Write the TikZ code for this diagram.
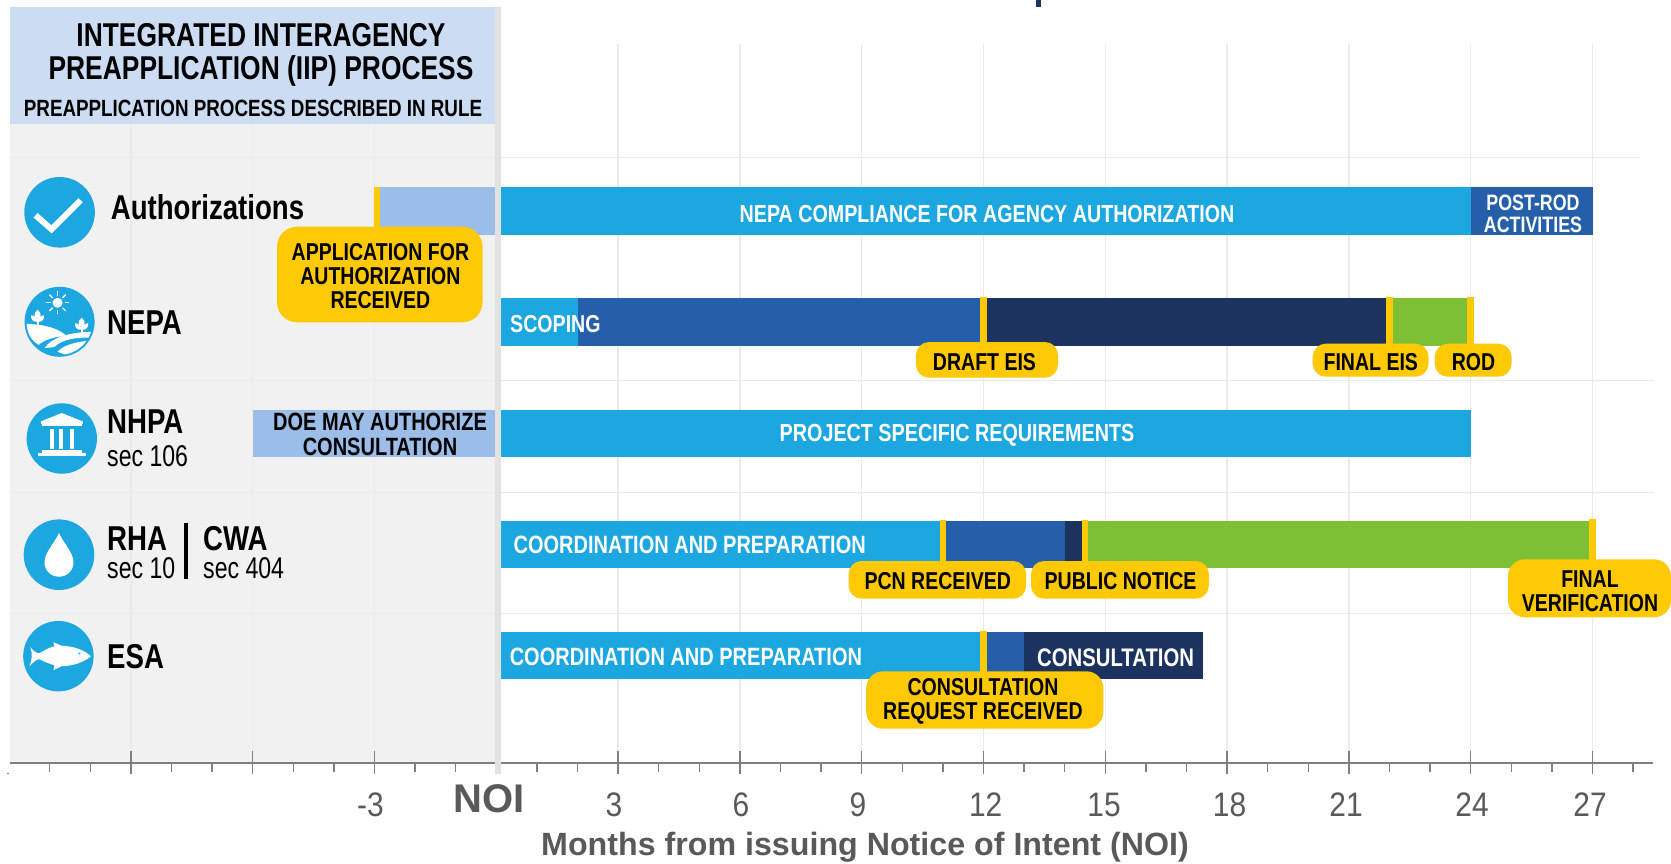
\documentclass[tikz,border=0pt]{standalone}
\usepackage{fontspec}
\setmainfont{Liberation Sans}
\newfontfamily\bnar[FakeStretch=0.8,UprightFont=* Bold]{Liberation Sans}
\newfontfamily\rnar[FakeStretch=0.77]{Liberation Sans}
\newfontfamily\axf[FakeStretch=0.88]{Liberation Sans}
\newfontfamily\bfull[UprightFont=* Bold]{Liberation Sans}
\newcommand\bsz[1]{\bnar\fontsize{#1}{#1}\selectfont}
\newcommand\rsz[1]{\rnar\fontsize{#1}{#1}\selectfont}
\newcommand\hdsz{\bnar\fontsize{33}{33}\selectfont}
\definecolor{cyanbar}{HTML}{1CA7E0}
\definecolor{midbar}{HTML}{255FAA}
\definecolor{darkbar}{HTML}{1C335F}
\definecolor{greenbar}{HTML}{7DC035}
\definecolor{flag}{HTML}{FFC905}
\definecolor{header}{HTML}{CCDCF3}
\definecolor{panel}{HTML}{F1F1F1}
\definecolor{stripe}{HTML}{E2E2E2}
\definecolor{gridc}{HTML}{EAEAEA}
\definecolor{axisc}{HTML}{7F7F7F}
\definecolor{txtgrey}{HTML}{595959}
\definecolor{prebar}{HTML}{9DBDE9}
\usetikzlibrary{calc}
\tikzset{
  grid line/.style={draw=gridc,line width=1.3pt},
  tick line/.style={draw=axisc,line width=1.3pt},
  milestone/.style={draw=flag,line width=6.8pt},
  flagbox/.style={fill=flag,rounded corners=#1},
  flagbox/.default=13pt,
  bartxt/.style={inner sep=0pt,text=white,align=center,yshift=-1.5pt,font=\bsz{#1}},
  flagtxt/.style={inner sep=0pt,text=black,align=center,yshift=-1.5pt,font=\bsz{#1}},
  rowtxt/.style={inner sep=0pt,text=black,anchor=west,font=\bsz{#1}},
  subtxt/.style={inner sep=0pt,text=black,anchor=west,yshift=-1.5pt,font=\rsz{#1}},
  axtxt/.style={inner sep=0pt,text=txtgrey,yshift=-2pt,font=\axf\fontsize{34}{34}\selectfont},
  iconbg/.style={fill=cyanbar},
  treeleaf/.style={fill=white},
}
\newcommand\smalltree{%
\fill[white] (-1,0) rectangle (1,10);
\fill[treeleaf] (0,-6) .. controls (4,-3) and (4,1) .. (0,3.5) .. controls (-4,1) and (-4,-3) .. (0,-6);
\fill[treeleaf] (0,6) .. controls (-5,6.5) and (-7,3) .. (-6.5,-.5) .. controls (-3,-.5) and (-.5,2) .. (0,6);
\fill[treeleaf] (0,6) .. controls (5,6.5) and (7,3) .. (6.5,-.5) .. controls (3,-.5) and (.5,2) .. (0,6);
}
\begin{document}
\begin{tikzpicture}[x=1pt,y=-1pt,declare function={mx(\m)=496.3+40.6*\m;}]
\useasboundingbox (0,0) rectangle (1671,864);
% stub of clipped title
\fill[darkbar] (1036,0) rectangle (1040.5,7.5);
% panel
\fill[panel] (9.6,124) rectangle (495,763);
\fill[header] (9.6,7.3) rectangle (495,124);
% grid
\foreach \m in {-9,-6,-3} \draw[grid line] ({mx(\m)},124) -- ({mx(\m)},763);
\foreach \m in {3,6,...,27} \draw[grid line] ({mx(\m)},44) -- ({mx(\m)},763);
\draw[grid line] (9.6,157.3) -- (1640,157.3);
\foreach \y in {380.5,492.3,613.3} \draw[grid line] (9.6,\y) -- (1654,\y);
% axis
\draw[draw=axisc,line width=1.6pt] (9.6,763) -- (1653,763);
\foreach \m in {-11,-10,-8,-7,-5,-4,-2,-1,1,2,4,5,7,8,10,11,13,14,16,17,19,20,22,23,25,26,28}
  \draw[tick line] ({mx(\m)},763) -- ({mx(\m)},771.7);
\foreach \m in {-9,-6,-3,3,6,...,27}
  \draw[tick line] ({mx(\m)},751) -- ({mx(\m)},774.3);
\fill[axisc] (8,773.5) circle (.8);
\fill[stripe] (495,7.3) rectangle (501,774);
% header text
\node[inner sep=0pt,align=center,font=\hdsz] (hd) at (261,54.8) {INTEGRATED INTERAGENCY\\PREAPPLICATION (IIP) PROCESS};
\node[inner sep=0pt,yshift=-1.5pt,font=\bsz{23.5}] (hdsub) at (253,107) {PREAPPLICATION PROCESS DESCRIBED IN RULE};
% bars: Authorizations
\fill[prebar] (380,187.3) rectangle (495,234.7);
\fill[cyanbar] (501,187.3) rectangle ({mx(24)},234.7);
\fill[midbar] ({mx(24)},187.3) rectangle ({mx(27)},234.7);
\node[bartxt=24.6] (t1) at (987,212.3) {NEPA COMPLIANCE FOR AGENCY AUTHORIZATION};
\node[bartxt=22.3] (t2) at (1533,212) {POST-ROD\\ACTIVITIES};
% NEPA
\fill[cyanbar] (501,298.3) rectangle ({mx(2)},346);
\fill[midbar] ({mx(2)},298.3) rectangle ({mx(12)},346);
\fill[darkbar] ({mx(12)},298.3) rectangle ({mx(22)},346);
\fill[greenbar] ({mx(22)},298.3) rectangle ({mx(24)},346);
\node[bartxt=24.5,anchor=west] (t3) at (510,323) {SCOPING};
% NHPA
\fill[prebar] (252.5,409.7) rectangle (495,457);
\fill[cyanbar] (501,409.7) rectangle ({mx(24)},457);
\node[bartxt=24.7] (t4) at (957,433.6) {PROJECT SPECIFIC REQUIREMENTS};
\node[flagtxt=25] (t5) at (380,433) {DOE MAY AUTHORIZE\\CONSULTATION};
% RHA
\fill[cyanbar] (501,520.7) rectangle ({mx(11)},568);
\fill[midbar] ({mx(11)},520.7) rectangle ({mx(14)},568);
\fill[darkbar] ({mx(14)},520.7) rectangle ({mx(14.5)},568);
\fill[greenbar] ({mx(14.5)},520.7) rectangle ({mx(27)},568);
\node[bartxt=25,anchor=west] (t6) at (513.4,543) {COORDINATION AND PREPARATION};
% ESA
\fill[cyanbar] (501,632) rectangle ({mx(12)},679.3);
\fill[midbar] ({mx(12)},632) rectangle ({mx(13)},679.3);
\fill[darkbar] ({mx(13)},632) rectangle ({mx(17.4)},679.3);
\node[bartxt=25,anchor=west] (t7) at (509.6,655) {COORDINATION AND PREPARATION};
\node[bartxt=25.4,anchor=west] (t8) at (1037,656.7) {CONSULTATION};
% milestone flags
\coordinate (m1) at ({mx(-3)+2.4},187);
\coordinate (m2) at ({mx(12)},297);
\coordinate (m3) at ({mx(22)},297);
\coordinate (m4) at ({mx(24)},297);
\coordinate (m5) at ({mx(11)},520);
\coordinate (m6) at ({mx(14.5)},520);
\coordinate (m7) at ({mx(27)},519.3);
\coordinate (m8) at ({mx(12)-.3},631);
\foreach \a/\yb in {m1/230,m2/345,m3/345,m4/345,m5/564,m6/564,m7/562,m8/674}
  \draw[milestone] (\a) -- (\a |- 0,\yb);
\fill[flagbox=20pt] (277,226.7) rectangle (482.5,322.3);
\fill[flagbox] (916,342) rectangle (1058,377.7);
\fill[flagbox] (1312.7,343.7) rectangle (1428.5,376.7);
\fill[flagbox] (1434.7,343.7) rectangle (1511.5,376.7);
\fill[flagbox] (848.6,561) rectangle (1026.2,598.7);
\fill[flagbox] (1031,561) rectangle (1208.8,598.7);
\fill[flagbox=17pt] (1508,559.3) rectangle (1671,617.3);
\fill[flagbox=17pt] (866.2,671.3) rectangle (1103.4,728.7);
\node[flagtxt=24.4] (f1) at (380.4,274.5) {APPLICATION FOR\\AUTHORIZATION\\RECEIVED};
\node[flagtxt=24.4] (f2) at (984.5,360.5) {DRAFT EIS};
\node[flagtxt=24.4] (f3) at (1370.8,361) {FINAL EIS};
\node[flagtxt=24.4] (f4) at (1473.5,361) {ROD};
\node[flagtxt=24.4] (f5) at (937.8,580) {PCN RECEIVED};
\node[flagtxt=24.4] (f6) at (1120.6,580) {PUBLIC NOTICE};
\node[flagtxt=24.4] (f7) at (1590,590) {FINAL\\VERIFICATION};
\node[flagtxt=24.4] (f8) at (983,700) {CONSULTATION\\REQUEST RECEIVED};
% row labels
\node[rowtxt=34.5] (r1) at (110.7,206.7) {Authorizations};
\node[rowtxt=34.5] (r2) at (107,322.7) {NEPA};
\node[rowtxt=34.5] (r3) at (107,422) {NHPA};
\node[subtxt=30] (r3s) at (107,455) {sec 106};
\node[rowtxt=34.5] (r4) at (107,538.3) {RHA};
\node[subtxt=30] (r4s) at (107,566.7) {sec 10};
\fill[black] (184,523.3) rectangle (187.5,579.3);
\node[rowtxt=34.5] (r5) at (203,538.3) {CWA};
\node[subtxt=30] (r5s) at (203,566.7) {sec 404};
\node[rowtxt=34.5] (r6) at (107,656.5) {ESA};
% icon: check
\begin{scope}[shift={(59.6,212.3)}]
\fill[iconbg] (0,0) circle (35.3);
\draw[white,line width=6pt] (-24,3) -- (-8,17) -- (21,-12);
\end{scope}
% icon: landscape
\begin{scope}[shift={(59.6,321.8)}]
\fill[iconbg] (0,0) circle (35);
\fill[white] (-2,-19) circle (5);
\foreach \a in {0,45,...,315} \draw[white,line width=1.3pt] ($(-2,-19)+(\a:7)$) -- ($(-2,-19)+(\a:11.5)$);
\begin{scope}[shift={(-22,-6)}]\smalltree\end{scope}
\begin{scope}[shift={(22,2)}]\smalltree\end{scope}
\begin{scope}
\clip (0,0) circle (33);
\fill[white] (-34,2) .. controls (-10,3) and (0,8) .. (7,14) .. controls (-6,15) and (-15,18) .. (-21,23) .. controls (-28,19) and (-32,12) .. (-34,2);
\fill[white] (-15,26) .. controls (-6,14) and (14,10) .. (35,10) -- (33,16) .. controls (16,15) and (2,18) .. (-5,25) .. controls (-8,26) and (-12,26) .. (-15,26);
\fill[white] (-2,30) .. controls (3,24) and (15,20) .. (29,19) .. controls (24,27) and (14,32) .. (6,33) -- cycle;
\end{scope}
\end{scope}
% icon: temple
\begin{scope}[shift={(61.8,438.5)}]
\fill[iconbg] (0,0) circle (35.2);
\fill[white] (-21,-17) -- (-21,-14.5) -- (21,-14.5) -- (21,-17) -- (0,-25.5) -- cycle;
\fill[white] (-20,-14.5) rectangle (20,-13);
\foreach \x in {-10,-.6,10} \fill[white] (\x-1.8,-10) rectangle (\x+1.8,10.5);
\fill[white] (-20,11.5) rectangle (20,15);
\fill[white] (-24,14.5) rectangle (24,17.5);
\end{scope}
% icon: drop
\begin{scope}[shift={(59,554.7)}]
\fill[iconbg] (0,0) circle (35.3);
\fill[white] (0,-21.5) .. controls (3,-14) and (14.5,-2) .. (14.5,7.5) .. controls (14.5,16) and (8,22) .. (0,22) .. controls (-8,22) and (-14.5,16) .. (-14.5,7.5) .. controls (-14.5,-2) and (-3,-14) .. (0,-21.5);
\end{scope}
% icon: fish
\begin{scope}[shift={(58.4,656.2)}]
\fill[iconbg] (0,0) circle (35.2);
\fill[white] (-28,-9) .. controls (-25,-5) and (-22,-3) .. (-19,-3) .. controls (-12,-7) and (-8,-9) .. (-4,-10) -- (-5,-14) -- (3,-10.5) .. controls (16,-10) and (26,-6) .. (32.5,0) .. controls (26,6) and (14,10) .. (3,10) -- (-5,14) -- (-4,9) .. controls (-8,8) and (-13,6) .. (-19,3) .. controls (-22,3) and (-25,6) .. (-29,10) .. controls (-26,4) and (-26,-3) .. (-28,-9);
\fill[iconbg] (21,-2.7) circle (1.1);
\end{scope}
% axis labels
\node[axtxt] (a0) at (370.5,803) {-3};
\node[inner sep=0pt,text=txtgrey,font=\bfull\fontsize{40}{40}\selectfont] (noi) at (489,799) {NOI};
\node[axtxt] (a1) at (614,803) {3};
\node[axtxt] (a2) at (741,803) {6};
\node[axtxt] (a3) at (858,803) {9};
\node[axtxt] (a4) at (985.7,803) {12};
\node[axtxt] (a5) at (1104,803) {15};
\node[axtxt] (a6) at (1229.5,803) {18};
\node[axtxt] (a7) at (1346,803) {21};
\node[axtxt] (a8) at (1472,803) {24};
\node[axtxt] (a9) at (1590,803) {27};
\node[inner sep=0pt,text=txtgrey,yshift=-2pt,font=\bfull\fontsize{32.2}{32.2}\selectfont] (axt) at (865,845) {Months from issuing Notice of Intent (NOI)};
\end{tikzpicture}
\end{document}
